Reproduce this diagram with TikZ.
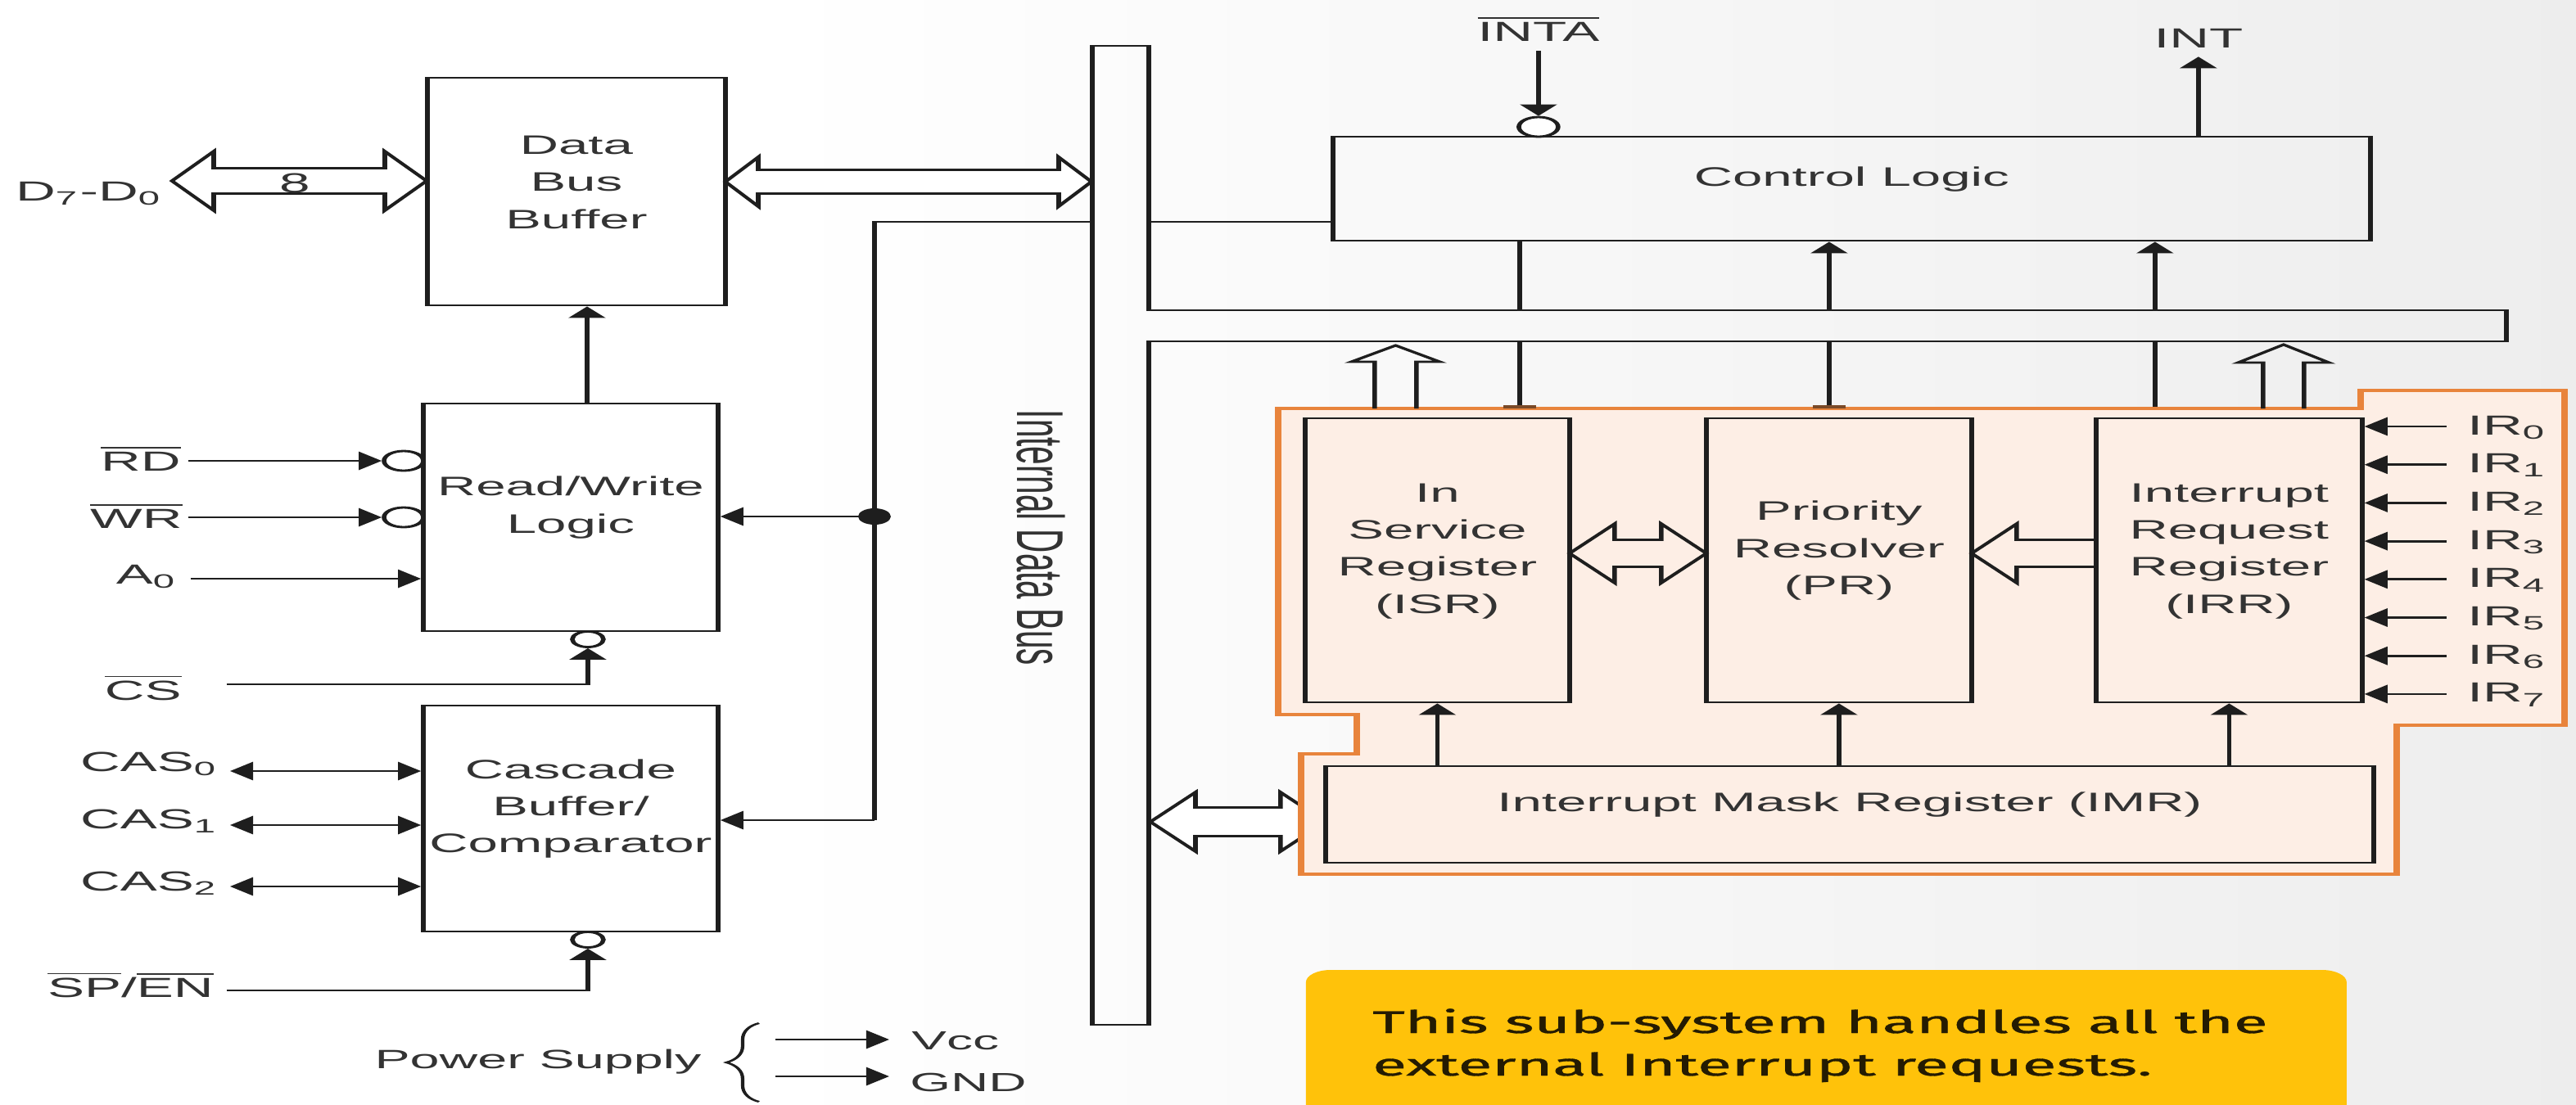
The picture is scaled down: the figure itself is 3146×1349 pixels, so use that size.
\documentclass[tikz,border=0pt]{standalone}
\usepackage{fontspec}
\setmainfont{Liberation Sans}
\newfontfamily\callfont[FakeBold=0.8]{Fira Sans}
\usetikzlibrary{arrows.meta,fit,decorations.pathreplacing,calc}
\definecolor{linec}{HTML}{1E1E1E}
\definecolor{txtc}{HTML}{333333}
\definecolor{peach}{HTML}{FDEEE5}
\definecolor{orng}{HTML}{E8843C}
\definecolor{amber}{HTML}{FFC20A}
\definecolor{calltxt}{HTML}{241B02}
\definecolor{tickc}{HTML}{7A4A28}
\pgfdeclarehorizontalshading{bgshade}{100bp}{color(0bp)=(white); color(40bp)=(white); color(75bp)=(white!93!black); color(100bp)=(white!80!black)}
\newcommand{\bxf}{\fontsize{9.3}{12.9}\selectfont}
\newcommand{\lbf}{\fontsize{9.6}{11}\selectfont}
\newcommand{\ovl}[1]{$\overline{\mbox{#1}}$}
% horizontal double block arrow: xl xr y headlen shafthalf headhalf fill
\newcommand{\hdouble}[7]{\draw[ln, fill=#7] (#1,#3) -- ({#1+#4},{#3-#6}) -- ({#1+#4},{#3-#5}) -- ({#2-#4},{#3-#5}) -- ({#2-#4},{#3-#6}) -- (#2,#3) -- ({#2-#4},{#3+#6}) -- ({#2-#4},{#3+#5}) -- ({#1+#4},{#3+#5}) -- ({#1+#4},{#3+#6}) -- cycle;}
% left pointing block arrow: xtip xtail y headlen shafthalf headhalf
\newcommand{\hleftarr}[6]{\draw[ln, fill=peach] (#1,#3) -- ({#1+#4},{#3-#6}) -- ({#1+#4},{#3-#5}) -- (#2,{#3-#5}) -- (#2,{#3+#5}) -- ({#1+#4},{#3+#5}) -- ({#1+#4},{#3+#6}) -- cycle;}
% upward block arrow: xc ytip ybot headlen shafthalf headhalf
\newcommand{\vuparr}[6]{\draw[ln] ({#1-#5},#3) -- ({#1-#5},{#2+#4}) -- ({#1-#6},{#2+#4}) -- (#1,#2) -- ({#1+#6},{#2+#4}) -- ({#1+#5},{#2+#4}) -- ({#1+#5},#3);}
\tikzset{
  ln/.style={draw=linec, line width=0.8pt},
  blk/.style={draw=linec, line width=0.8pt, inner sep=0pt, align=center, font=\bxf, text=txtc},
  arr/.style={-{Triangle[length=4pt,width=6.3pt]}},
  darr/.style={{Triangle[length=4pt,width=6.3pt]}-{Triangle[length=4pt,width=6.3pt]}},
  bub/.style={circle, draw=linec, line width=0.8pt, fill=white, inner sep=0pt, minimum size=2.4mm},
  lbl/.style={font=\lbf, text=txtc, inner sep=0pt},
}
\begin{document}
\begin{tikzpicture}[x=0.1mm,y=-0.1mm]
\useasboundingbox (0,0) rectangle (3146,1349);
\shade[shading=bgshade] (0,0) rectangle (3146,1349);
\begin{scope}[transform canvas={xscale=2}, x=0.05mm, y=-0.1mm]
\clip (0,0) rectangle (3146,1349);

% ---------- internal data bus ----------
\draw[ln] (1334,56) -- (1403,56) -- (1403,379) -- (3061,379) -- (3061,417) -- (1403,417) -- (1403,1252) -- (1334,1252) -- cycle;
\node[font=\fontsize{11.5}{13}\selectfont, text=txtc, rotate=-90, inner sep=0pt] (idb) at (1271,657) {Internal Data Bus};

% ---------- left blocks ----------
\node[blk, fit={(522,95) (886,373)}] (dbb) {Data\\Bus\\Buffer};
\node[blk, fit={(517,493) (877,771)}] (rwl) {Read/Write\\Logic};
\node[blk, fit={(517,862) (877,1138)}] (cbc) {Cascade\\Buffer/\\Comparator};
\node[blk, fit={(1628,167) (2895,294)}] (cl) {Control Logic};

% block arrows (left part)
\hdouble{210}{521}{221}{51}{15.5}{36}{white}
\node[lbl] (eight) at (360,224) {8};
\hdouble{886}{1333}{222}{40}{14.5}{30}{white}
\hdouble{1405}{1619}{1004}{55}{17.5}{36}{white}

% labels left
\node[lbl, anchor=base east] (d70) at (200,245) {D\textsubscript{7}-D\textsubscript{0}};
\node[lbl, anchor=base east] (rd) at (222,575) {\ovl{RD}};
\node[lbl, anchor=base east] (wr) at (224,645) {\ovl{WR}};
\node[lbl, anchor=base east] (a0) at (218,713) {A\textsubscript{0}};
\node[lbl, anchor=base east] (cs) at (223,855) {\ovl{CS}};
\node[lbl, anchor=base east] (cas0) at (268,942) {CAS\textsubscript{0}};
\node[lbl, anchor=base east] (cas1) at (268,1012) {CAS\textsubscript{1}};
\node[lbl, anchor=base east] (cas2) at (268,1088) {CAS\textsubscript{2}};
\node[lbl, anchor=base east] (spen) at (262,1218) {\ovl{SP}/\ovl{EN}};

% bubbles
\node[bub] (rdb) at (493,563) {};
\node[bub] (wrb) at (493,632) {};
\node[bub, minimum size=1.9mm] (csb) at (718,781) {};
\node[bub, minimum size=1.9mm] (spb) at (718,1148) {};

% wires left
\coordinate (rds) at (230,563);
\coordinate (wrs) at (230,632);
\coordinate (a0s) at (233,707);
\coordinate (css) at (277,836);
\coordinate (c0s) at (281,942);
\coordinate (c1s) at (281,1008);
\coordinate (c2s) at (281,1083);
\coordinate (sps) at (277,1210);
\coordinate (vx) at (717,0);
\draw[ln,arr] (rds) -- (rdb);
\draw[ln,arr] (wrs) -- (wrb);
\draw[ln,arr] (a0s) -- (a0s -| rwl.west);
\draw[ln,arr] (css) -| (csb.south);
\draw[ln,darr] (c0s) -- (c0s -| cbc.west);
\draw[ln,darr] (c1s) -- (c1s -| cbc.west);
\draw[ln,darr] (c2s) -- (c2s -| cbc.west);
\draw[ln,arr] (sps) -| (spb.south);
\draw[ln,arr] (rwl.north -| vx) -- (dbb.south -| vx);

% bus to RWL / CBC
\coordinate (busjl) at (1334,271);
\coordinate (jt) at (1068,271);
\coordinate (jd) at (1068,631);
\coordinate (jb) at (1068,1002);
\draw[ln] (busjl) -- (jt) -- (jb);
\draw[ln,arr] (jb) -- (jb -| cbc.east);
\draw[ln,arr] (jd) -- (jd -| rwl.east);
\fill[linec] (jd) circle (1mm);

% bus to control logic
\coordinate (busjr) at (1403,271);
\draw[ln] (busjr) -- (busjr -| cl.west);
\coordinate (k1) at (1856,379);
\coordinate (k2) at (2234,379);
\coordinate (k3) at (2632,379);
\coordinate (m1) at (1856,417);
\coordinate (m2) at (2234,417);
\coordinate (m3) at (2632,417);
\coordinate (otop) at (0,499);
\draw[ln] (k1) -- (k1 |- cl.south);
\draw[ln,arr] (k2) -- (k2 |- cl.south);
\draw[ln,arr] (k3) -- (k3 |- cl.south);
\draw[ln] (m1) -- (m1 |- otop);
\draw[ln] (m2) -- (m2 |- otop);
\draw[ln] (m3) -- (m3 |- otop);

% INTA / INT
\node[lbl] (inta) at (1879,35) {\ovl{INTA}};
\node[bub] (intab) at (1879,155) {};
\coordinate (intas) at (1879,62);
\draw[ln,arr] (intas) -- (intab);
\node[lbl] (int) at (2685,47) {INT};
\draw[ln,arr] (cl.north -| int) -- ([yshift=-1mm]int.south);

% ---------- interrupt subsystem ----------
\draw[draw=orng, line width=1.1pt, fill=peach] (1561,499) -- (2883,499) -- (2883,477) -- (3132,477) -- (3132,886) -- (2927,886) -- (2927,1068) -- (1589,1068) -- (1589,921) -- (1657,921) -- (1657,873) -- (1561,873) -- cycle;
\draw[tickc, line width=1.2pt] (1836,497) -- (1876,497);
\draw[tickc, line width=1.2pt] (2214,497) -- (2254,497);

\vuparr{1704.5}{422}{499}{20}{25.5}{54}
\vuparr{2789}{421}{499}{22}{25}{55.5}

\node[blk, fill=peach, fit={(1594,511) (1917,858)}] (isr) {In\\Service\\Register\\(ISR)};
\node[blk, fill=peach, fit={(2084,511) (2408,858)}] (pr) {Priority\\Resolver\\(PR)};
\node[blk, fill=peach, fit={(2560,511) (2885,858)}] (irr) {Interrupt\\Request\\Register\\(IRR)};
\node[blk, fill=peach, fit={(1619,936) (2899,1054)}] (imr) {Interrupt Mask Register (IMR)};

\hdouble{1917}{2084}{676}{55}{16.5}{36}{peach}
\hleftarr{2408}{2560}{676}{55}{16.5}{36}

\draw[ln,arr] (isr.south |- imr.north) -- (isr.south);
\draw[ln,arr] (pr.south |- imr.north) -- (pr.south);
\draw[ln,arr] (irr.south |- imr.north) -- (irr.south);

\foreach \k in {0,...,7} {
  \pgfmathsetmacro{\yy}{521+46.7*\k}
  \coordinate (irs\k) at (2988,\yy);
  \draw[ln,arr] (irs\k) -- (irs\k -| irr.east);
  \node[lbl, anchor=base west] (ir\k) at (3012,\yy+10) {IR\textsubscript{\k}};
}

% ---------- power supply ----------
\node[lbl, font=\fontsize{9.2}{11}\selectfont, anchor=base east] (ps) at (858,1305) {Power Supply};
\draw[linec, line width=0.6pt, decorate, decoration={brace, amplitude=2mm}] (927,1346) -- (927,1250);
\node[lbl, font=\fontsize{9.1}{11}\selectfont, anchor=base west] (vcc) at (1112,1282) {Vcc};
\node[lbl, font=\fontsize{9.1}{11}\selectfont, anchor=base west] (gnd) at (1110,1333) {GND};
\coordinate (v1) at (947,1270);
\coordinate (g1) at (947,1315);
\draw[ln,arr] (v1) -- ($(v1 -| vcc.west)+(-26,0)$);
\draw[ln,arr] (g1) -- ($(g1 -| gnd.west)+(-24,0)$);

% ---------- callout ----------
\fill[amber, rounded corners=1.5mm] (1595,1185) rectangle (2866,1420);
\node[font=\callfont\fontsize{10.85}{14}\selectfont, text=calltxt, anchor=base west, inner sep=0pt] (calla) at (1675,1262) {This sub-system handles all the};
\node[font=\callfont\fontsize{10.85}{14}\selectfont, text=calltxt, anchor=base west, inner sep=0pt] (callb) at (1675,1314) {external Interrupt requests.};
\end{scope}
\end{tikzpicture}
\end{document}
